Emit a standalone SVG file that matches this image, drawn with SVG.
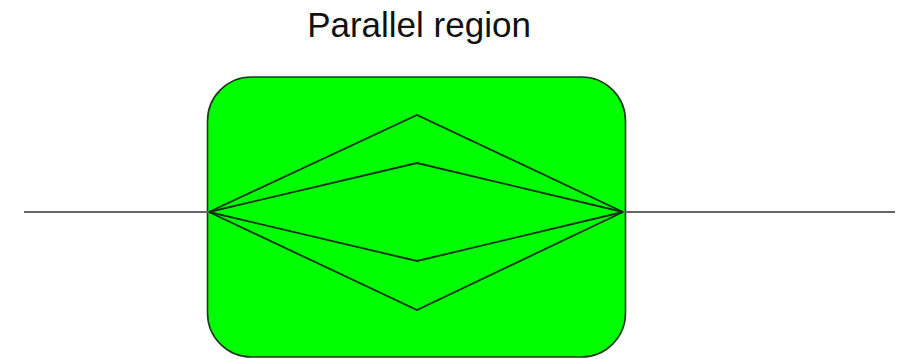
<svg xmlns="http://www.w3.org/2000/svg" width="897" height="359" viewBox="0 0 897 359">
<style>
.title{font-family:"Liberation Sans",Arial,sans-serif;font-size:35px;fill:#111;text-anchor:middle}
.region{fill:#00ff00;stroke:#1a3a1a;stroke-width:1.6}
.path{fill:none;stroke:#143014;stroke-width:1.8}
.wire{stroke:#666;stroke-width:2.2;fill:none}
</style>
<rect width="897" height="359" fill="#fff"/>
<g id="title"><text class="title" x="419" y="37">Parallel region</text></g>
<g id="region"><rect class="region" x="207.5" y="77" width="418" height="280" rx="44" ry="44"/></g>
<g id="connectors">
<line class="wire" x1="24" y1="212" x2="209" y2="212"/>
<line class="wire" x1="623" y1="212" x2="895" y2="212"/>
<polyline class="path" points="209,212 417,115 623,212"/>
<polyline class="path" points="209,212 417,163 623,212"/>
<polyline class="path" points="209,212 417,261 623,212"/>
<polyline class="path" points="209,212 417,310 623,212"/>
</g>
</svg>
